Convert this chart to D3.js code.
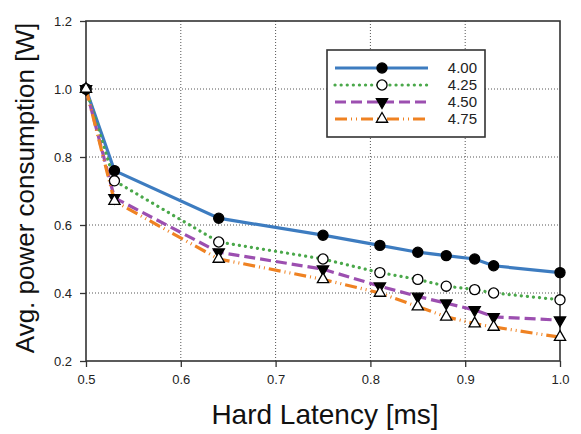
<!DOCTYPE html>
<html>
<head>
<meta charset="utf-8">
<script src="https://cdn.jsdelivr.net/npm/d3@7"></script>
<style>
  body { margin: 0; background: #fff; }
  text { font-family: "Liberation Sans", Arial, sans-serif; }
</style>
</head>
<body>
<script>
const w = 581;
const h = 434;
const margin = { top: 21, right: 21, bottom: 73, left: 86 };

// values
const latency = [0.5, 0.53, 0.64, 0.75, 0.81, 0.85, 0.88, 0.91, 0.93, 1.0];
const power400 = [1.0, 0.76, 0.62, 0.57, 0.54, 0.52, 0.51, 0.50, 0.48, 0.46];
const power425 = [1.0, 0.73, 0.55, 0.50, 0.46, 0.44, 0.42, 0.41, 0.40, 0.38];
const power450 = [1.0, 0.68, 0.52, 0.47, 0.42, 0.39, 0.37, 0.35, 0.33, 0.32];
const power475 = [1.0, 0.67, 0.50, 0.44, 0.40, 0.36, 0.33, 0.31, 0.30, 0.27];
const seriesNames = ["4.00", "4.25", "4.50", "4.75"];
const xTicks = [0.5, 0.6, 0.7, 0.8, 0.9, 1.0];
const yTicks = [0.2, 0.4, 0.6, 0.8, 1.0, 1.2];

const styles = [
  { color: "#3d7cc0", dash: null, shape: "circle", fill: "#000" },
  { color: "#4aa84a", dash: "0.1,6", cap: "round", shape: "circle", fill: "#fff" },
  { color: "#9c4fb0", dash: "11,5", shape: "down", fill: "#000" },
  { color: "#ef8222", dash: "12,4,1,4,1,4", shape: "up", fill: "#fff" }
];

const series = [power400, power425, power450, power475].map((vals, i) => ({
  name: seriesNames[i],
  style: styles[i],
  points: vals.map((v, j) => ({ x: latency[j], y: v }))
}));

const svg = d3.select("body")
    .append("svg")
    .attr("width", w)
    .attr("height", h)
    .style("background-color", "white");

const xScale = d3.scaleLinear()
    .domain([0.5, 1.0])
    .range([margin.left, w - margin.right]);

const yScale = d3.scaleLinear()
    .domain([0.2, 1.2])
    .range([h - margin.bottom, margin.top]);

// dotted grid
svg.append("g")
  .selectAll("line")
  .data(xTicks.slice(1, -1))
  .enter()
  .append("line")
    .attr("x1", d => xScale(d))
    .attr("x2", d => xScale(d))
    .attr("y1", yScale(0.2))
    .attr("y2", yScale(1.2))
    .style("stroke", "#555")
    .style("stroke-dasharray", "1,2");

svg.append("g")
  .selectAll("line")
  .data(yTicks.slice(1, -1))
  .enter()
  .append("line")
    .attr("x1", xScale(0.5))
    .attr("x2", xScale(1.0))
    .attr("y1", d => yScale(d))
    .attr("y2", d => yScale(d))
    .style("stroke", "#555")
    .style("stroke-dasharray", "1,2");

// axes
const xAxis = d3.axisBottom(xScale).tickValues(xTicks).tickFormat(d3.format(".1f")).tickSize(6).tickPadding(8);
const yAxis = d3.axisLeft(yScale).tickValues(yTicks).tickFormat(d3.format(".1f")).tickSize(6).tickPadding(8);

svg.append("g")
  .attr("transform", `translate(0, ${h - margin.bottom})`)
  .call(xAxis)
  .call(g => g.select(".domain").remove());

svg.append("g")
  .attr("transform", `translate(${margin.left}, 0)`)
  .call(yAxis)
  .call(g => g.select(".domain").remove());

svg.selectAll(".tick line").style("stroke", "#333").style("stroke-width", 1.3);
svg.selectAll(".tick text").style("font-size", "13px").style("fill", "#222")
  .style("font-family", "'Liberation Sans', Arial, sans-serif");

// frame
svg.append("rect")
  .attr("x", xScale(0.5))
  .attr("y", yScale(1.2))
  .attr("width", xScale(1.0) - xScale(0.5))
  .attr("height", yScale(0.2) - yScale(1.2))
  .style("fill", "none")
  .style("stroke", "#333")
  .style("stroke-width", 1.6);

const line = d3.line().x(d => xScale(d.x)).y(d => yScale(d.y));

function marker(sel, shape, fill) {
  if (shape === "circle") {
    sel.append("path").attr("d", d3.symbol(d3.symbolCircle, 80)());
  } else {
    sel.append("path")
      .attr("d", d3.symbol(d3.symbolTriangle, 55)())
      .attr("transform", shape === "down" ? "rotate(180)" : null);
  }
  sel.select("path")
    .style("fill", fill)
    .style("stroke", "#000")
    .style("stroke-width", 1.3);
}

series.forEach(s => {
  svg.append("path")
    .datum(s.points)
    .attr("d", line)
    .style("fill", "none")
    .style("stroke", s.style.color)
    .style("stroke-width", 3.2)
    .style("stroke-linecap", s.style.cap || "butt")
    .style("stroke-dasharray", s.style.dash);
});

series.forEach(s => {
  svg.append("g")
    .selectAll("g")
    .data(s.points)
    .enter()
    .append("g")
      .attr("transform", d => `translate(${xScale(d.x)}, ${yScale(d.y)})`)
      .each(function() { marker(d3.select(this), s.style.shape, s.style.fill); });
});

// legend
const legend = svg.append("g").attr("transform", "translate(327, 50)");

legend.append("rect")
  .attr("width", 158)
  .attr("height", 87)
  .style("fill", "white")
  .style("stroke", "#333")
  .style("stroke-width", 1.6);

series.forEach((s, i) => {
  const yy = 18 + i * 17;
  legend.append("line")
    .attr("x1", 8)
    .attr("x2", 101)
    .attr("y1", yy)
    .attr("y2", yy)
    .style("stroke", s.style.color)
    .style("stroke-width", 3.2)
    .style("stroke-linecap", s.style.cap || "butt")
    .style("stroke-dasharray", s.style.dash);
  legend.append("g")
    .attr("transform", `translate(55, ${yy})`)
    .call(g => marker(g, s.style.shape, s.style.fill));
  legend.append("text")
    .attr("x", 150)
    .attr("y", yy + 5)
    .attr("text-anchor", "end")
    .style("font-size", "15px")
    .style("fill", "#222")
    .text(s.name);
});

// axis titles
svg.append("text")
  .attr("x", 325)
  .attr("y", 424)
  .attr("text-anchor", "middle")
  .style("font-size", "28px")
  .style("fill", "#111")
  .text("Hard Latency [ms]");

svg.append("text")
  .attr("transform", "translate(34, 188) rotate(-90)")
  .attr("text-anchor", "middle")
  .style("font-size", "26px")
  .style("fill", "#111")
  .text("Avg. power consumption [W]");
</script>
</body>
</html>
